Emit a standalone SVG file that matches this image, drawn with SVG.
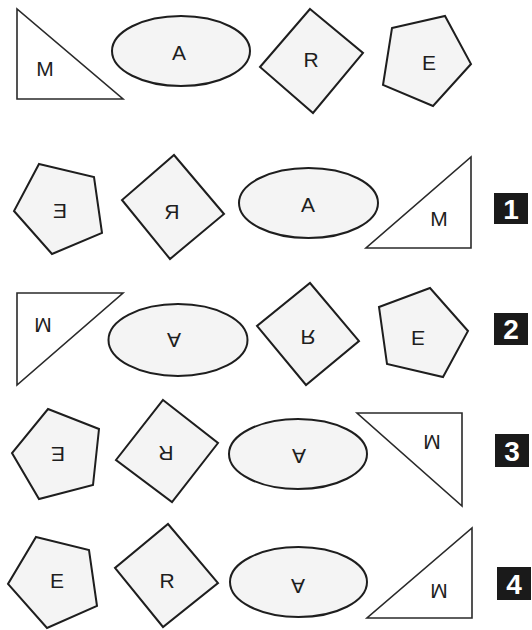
<svg xmlns="http://www.w3.org/2000/svg" width="532" height="630" viewBox="0 0 532 630">
<style>
.sh{fill:#f4f4f4;stroke:#1e1e1e;stroke-width:2;stroke-linejoin:miter}
.tri{fill:#ffffff;stroke:#2a2a2a;stroke-width:1.6}
.lt{font-family:"Liberation Sans",Arial,sans-serif;font-size:21px;fill:#1e1e1e;text-anchor:middle}
.box{fill:#1a1a1a}
.num{font-family:"Liberation Sans",Arial,sans-serif;font-size:28px;font-weight:bold;fill:#ffffff;text-anchor:middle}
</style>
<rect width="532" height="630" fill="#ffffff"/>

<!-- Row 0 -->
<g id="m0"><polygon class="tri" points="17,9 17,99 123,99"/><g transform="translate(45,68)"><text class="lt" x="0" y="7.5">M</text></g></g>
<g id="a0"><ellipse class="sh" cx="181" cy="51" rx="69" ry="35"/><g transform="translate(179,52)"><text class="lt" x="0" y="7.5">A</text></g></g>
<g id="r0"><polygon class="sh" points="310,9 363,53 313,113 260,67"/><g transform="translate(311,59)"><text class="lt" x="0" y="7.5">R</text></g></g>
<g id="e0"><polygon class="sh" points="392,28 445,16 471,64 433,106 383,85"/><g transform="translate(429,62)"><text class="lt" x="0" y="7.5">E</text></g></g>

<!-- Row 1 -->
<g id="e1"><polygon class="sh" points="39,164 94,177 102,233 52,254 14,211"/><g transform="translate(60,210) scale(-1,1)"><text class="lt" x="0" y="7.5">E</text></g></g>
<g id="r1"><polygon class="sh" points="174,155 224,214 170,259 122,200"/><g transform="translate(172,211) scale(-1,1)"><text class="lt" x="0" y="7.5">R</text></g></g>
<g id="a1"><ellipse class="sh" cx="308.5" cy="203" rx="69.5" ry="35"/><g transform="translate(308,204) scale(-1,1)"><text class="lt" x="0" y="7.5">A</text></g></g>
<g id="m1"><polygon class="tri" points="471,157 471,248 366,248"/><g transform="translate(439,218)"><text class="lt" x="0" y="7.5">M</text></g></g>
<g id="n1"><rect class="box" x="494" y="193" width="34" height="31"/><text class="num" x="511" y="218.5">1</text></g>

<!-- Row 2 -->
<g id="m2"><polygon class="tri" points="17,293 123,293 17,385"/><g transform="translate(43,325) scale(1,-1)"><text class="lt" x="0" y="7.5">M</text></g></g>
<g id="a2"><ellipse class="sh" cx="178" cy="340" rx="69.5" ry="36"/><g transform="translate(174,340) scale(1,-1)"><text class="lt" x="0" y="7.5">A</text></g></g>
<g id="r2"><polygon class="sh" points="310,283 359,341 306,385 257,326"/><g transform="translate(308,337) scale(1,-1)"><text class="lt" x="0" y="7.5">R</text></g></g>
<g id="e2"><polygon class="sh" points="379,307 430,288 468,331 443,377 387,364"/><g transform="translate(418,338) scale(1,-1)"><text class="lt" x="0" y="7.5">E</text></g></g>
<g id="n2"><rect class="box" x="494" y="313" width="34" height="32"/><text class="num" x="511" y="339">2</text></g>

<!-- Row 3 -->
<g id="e3"><polygon class="sh" points="48,409 99,429 93,485 39,499 12,453"/><g transform="translate(58,454) rotate(180)"><text class="lt" x="0" y="7.5">E</text></g></g>
<g id="r3"><polygon class="sh" points="163,400 218,443 172,502 116,460"/><g transform="translate(166,453) rotate(180)"><text class="lt" x="0" y="7.5">R</text></g></g>
<g id="a3"><ellipse class="sh" cx="298" cy="454" rx="69" ry="35"/><g transform="translate(299,456) rotate(180)"><text class="lt" x="0" y="7.5">A</text></g></g>
<g id="m3"><polygon class="tri" points="357,413 462,413 462,506"/><g transform="translate(432,442) rotate(180)"><text class="lt" x="0" y="7.5">M</text></g></g>
<g id="n3"><rect class="box" x="495" y="434" width="34" height="33"/><text class="num" x="512" y="460.5">3</text></g>

<!-- Row 4 -->
<g id="e4"><polygon class="sh" points="36,537 89,550 97,606 47,628 8,584"/><g transform="translate(57,580)"><text class="lt" x="0" y="7.5">E</text></g></g>
<g id="r4"><polygon class="sh" points="168,524 218,583 163,627 115,568"/><g transform="translate(167,580)"><text class="lt" x="0" y="7.5">R</text></g></g>
<g id="a4"><ellipse class="sh" cx="298.5" cy="582" rx="68.5" ry="35"/><g transform="translate(298,586) scale(1,-1)"><text class="lt" x="0" y="7.5">A</text></g></g>
<g id="m4"><polygon class="tri" points="472,528 472,618 367,618"/><g transform="translate(439,591) scale(1,-1)"><text class="lt" x="0" y="7.5">M</text></g></g>
<g id="n4"><rect class="box" x="497" y="567" width="34" height="33"/><text class="num" x="514" y="593.5">4</text></g>
</svg>
